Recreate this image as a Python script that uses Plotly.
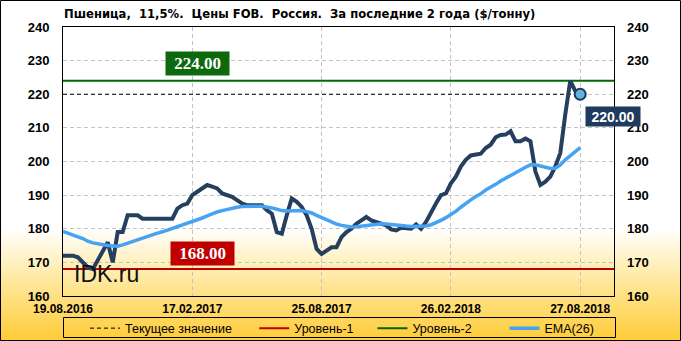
import base64
import plotly.graph_objects as go

# ---------------- data ----------------
price = [172, 172, 172, 171.5, 170, 168.5, 168, 170.5, 173, 176,
         170, 179, 179, 184, 184, 184, 183, 183, 183, 183,
         183, 183, 183, 186, 187, 187.5, 190, 191, 192, 193,
         192.5, 192, 190.5, 190, 189.5, 188.5, 187.5, 187, 187, 187,
         187, 185.5, 184.5, 179, 178.5, 184, 189, 188, 186.5, 184,
         180, 174, 172.5, 173.5, 174.5, 174.5, 177.5, 179, 180, 181.5,
         182.5, 183.5, 182.5, 182, 181.7, 181, 179.8, 179.5, 180.3, 180,
         180, 181.3, 180, 182, 185, 187.5, 190, 190.5, 193.5, 195.5,
         198.5, 200.5, 201.8, 202.2, 202.3, 204, 205, 207.2, 207.9, 208,
         209, 206, 206, 206.8, 206, 197, 193, 194, 195.5, 198.5,
         202.5, 214, 224, 221, 220]

ema26 = [179.2, 178.6, 178, 177.6, 177.1, 176.3, 175.8, 175.5, 175.2, 175,
         174.9, 174.8, 175.2, 175.7, 176.3, 176.9, 177.4, 177.8, 178.3, 178.7,
         179.1, 179.6, 180, 180.5, 181, 181.6, 182, 182.6, 183.2, 183.8,
         184.5, 185, 185.4, 185.8, 186.2, 186.4, 186.6, 186.7, 186.7, 186.7,
         186.7, 186.5, 186.2, 185.8, 185.4, 185.3, 185.4, 185.5, 185.4, 185.1,
         184.7, 184, 183.3, 182.6, 182, 181.4, 181, 180.7, 180.5, 180.6,
         180.8, 181, 181.2, 181.4, 181.5, 181.4, 181.2, 181, 180.9, 180.8,
         180.7, 180.7, 180.7, 180.8, 181.2, 181.8, 182.5, 183.3, 184.2, 185.2,
         186.4, 187.6, 188.6, 189.6, 190.4, 191.5, 192.3, 193.2, 194.2, 195.1,
         196, 196.8, 197.5, 198.3, 199, 199, 198.6, 198.2, 197.9, 198,
         199, 200.5, 201.7, 203, 204.1]

level1 = 168.0
level2 = 224.0
tick_idx = [0, 26, 52, 78, 104]
tick_labels = ["19.08.2016", "17.02.2017", "25.08.2017", "26.02.2018", "27.08.2018"]
y_ticks = [160, 170, 180, 190, 200, 210, 220, 230, 240]
title_text = ("Пшеница,\u00a0 11,5%.\u00a0 Цены FOB.\u00a0 Россия.\u00a0 "
              "За последние 2 года ($/тонну)")
legend_names = ["Текущее значение", "Уровень-1", "Уровень-2", "EMA(26)"]

# ---------------- geometry / style ----------------
W, H = 681, 341
ML, MR, MT, MB = 63, 67, 27, 45
PW = W - ML - MR
PH = H - MT - MB
X_MAX = 110.8
Y_RANGE = [160, 240]


def px(xp):
    return (xp - ML) / PW


def py(yp):
    return 1 - (yp - MT) / PH


idx = list(range(len(price)))
current = price[-1]
last_i = idx[-1]

C_PRICE = "#253F5F"
C_EMA = "#45A3F2"
C_RED = "#C00000"
C_GREEN = "#006A00"
C_NAVY = "#1E3A5C"
NB = "\u00a0"

svg = ('<svg xmlns="http://www.w3.org/2000/svg" width="681" height="341" '
       'viewBox="0 0 681 341" preserveAspectRatio="none"><defs>'
       '<linearGradient id="g" x1="0" y1="0" x2="0" y2="1">'
       '<stop offset="0" stop-color="#ffffff"/>'
       '<stop offset="0.67" stop-color="#ffffff"/>'
       '<stop offset="0.78" stop-color="#FFEFB8"/>'
       '<stop offset="0.9" stop-color="#FFDC70"/>'
       '<stop offset="1" stop-color="#FFCB38"/>'
       '</linearGradient></defs>'
       '<rect width="681" height="341" fill="url(#g)"/></svg>')
bg_src = "data:image/svg+xml;base64," + base64.b64encode(svg.encode()).decode()

fig = go.Figure()

fig.add_trace(go.Scatter(x=[0, X_MAX], y=[level1, level1], mode="lines",
                         line=dict(color=C_RED, width=2), name=legend_names[1] + NB * 4,
                         legendrank=2, hoverinfo="skip"))
fig.add_trace(go.Scatter(x=[0, X_MAX], y=[level2, level2], mode="lines",
                         line=dict(color=C_GREEN, width=2), name=legend_names[2] + NB * 8,
                         legendrank=3, hoverinfo="skip"))
fig.add_trace(go.Scatter(x=[0, last_i], y=[current, current], mode="lines",
                         line=dict(color="black", width=1, dash="4px,3px"),
                         name=legend_names[0] + NB * 5, legendrank=1, hoverinfo="skip"))
fig.add_trace(go.Scatter(x=idx, y=price, mode="lines",
                         line=dict(color=C_PRICE, width=4), showlegend=False))
fig.add_trace(go.Scatter(x=idx, y=ema26, mode="lines",
                         line=dict(color=C_EMA, width=3.5), name=legend_names[3],
                         legendrank=4))
fig.add_trace(go.Scatter(x=[last_i], y=[current], mode="markers",
                         marker=dict(size=11, color="#62B4DE",
                                     line=dict(color=C_NAVY, width=2)),
                         showlegend=False))
# helper so the right-hand axis is drawn
fig.add_trace(go.Scatter(x=[0], y=[current], yaxis="y2", mode="markers",
                         marker=dict(opacity=0), showlegend=False, hoverinfo="skip"))

tick_font = dict(family="Liberation Sans, Arial, sans-serif", size=13,
                 color="black", weight="bold")

fig.update_layout(
    width=W, height=H,
    margin=dict(l=ML, r=MR, t=MT, b=MB, pad=0, autoexpand=False),
    paper_bgcolor="white",
    plot_bgcolor="rgba(0,0,0,0)",
    showlegend=True,
    title=dict(text=title_text, x=64 / W, xanchor="left", xref="container",
               y=1 - 14 / H, yanchor="middle", yref="container",
               font=dict(family="DejaVu Sans, Verdana, sans-serif", size=11.6,
                         color="black", weight="bold")),
    xaxis=dict(range=[0, X_MAX], tickmode="array", tickvals=tick_idx,
               ticktext=tick_labels, showgrid=True, gridcolor="#C4C4C4",
               griddash="4px,3px", gridwidth=1, zeroline=False,
               showline=True, linecolor="black", linewidth=1, mirror=True,
               ticks="", ticklabelstandoff=2,
               tickfont=dict(family="Liberation Sans, Arial, sans-serif",
                             size=12, color="black", weight="bold")),
    yaxis=dict(range=Y_RANGE, tickmode="array", tickvals=y_ticks,
               showgrid=True, gridcolor="#C4C4C4", griddash="4px,3px",
               gridwidth=1, zeroline=False, showline=True, linecolor="black",
               linewidth=1, mirror=True, ticks="", ticklabelstandoff=10,
               tickfont=tick_font),
    yaxis2=dict(range=Y_RANGE, overlaying="y", side="right", tickmode="array",
                tickvals=y_ticks, showgrid=False, zeroline=False,
                showline=False, ticks="", ticklabelstandoff=12,
                tickfont=tick_font),
    legend=dict(orientation="h", x=px(85), xanchor="left", y=py(313.5),
                yanchor="top", bgcolor="rgba(0,0,0,0)", borderwidth=0,
                font=dict(family="Liberation Sans, Arial, sans-serif", size=12.5,
                          color="black"),
                traceorder="normal"),
    images=[dict(source=bg_src, xref="paper", yref="paper", x=px(0), y=py(0),
                 sizex=W / PW, sizey=H / PH, sizing="stretch",
                 xanchor="left", yanchor="top", layer="below")],
    shapes=[
        dict(type="rect", xref="paper", yref="paper", x0=px(0.5), x1=px(W - 0.5),
             y0=py(0.5), y1=py(H - 0.5), line=dict(color="black", width=1)),
        dict(type="rect", xref="paper", yref="paper", x0=px(63.5), x1=px(615.5),
             y0=py(317.5), y1=py(337.5), line=dict(color="black", width=1)),
    ],
    annotations=[
        dict(text=f"<b>{level2:.2f}</b>", x=px(197.5), xref="paper",
             xanchor="center", y=level2, yref="y", yshift=17, showarrow=False,
             width=63, height=23, bgcolor="#0E690E", borderpad=0,
             font=dict(family="Liberation Serif, Times New Roman, serif",
                       size=17, color="white")),
        dict(text=f"<b>{level1:.2f}</b>", x=px(202.5), xref="paper",
             xanchor="center", y=level1, yref="y", yshift=16, showarrow=False,
             width=63, height=23, bgcolor=C_RED, borderpad=0,
             font=dict(family="Liberation Serif, Times New Roman, serif",
                       size=17, color="white")),
        dict(text=f"<b>{current:.2f}</b>", x=last_i, xref="x", xanchor="center",
             y=current, yref="y", xshift=33, yshift=-22, showarrow=False,
             width=54, height=19, bgcolor=C_NAVY, borderpad=0,
             font=dict(family="Liberation Sans, Arial, sans-serif", size=14,
                       color="white")),
        dict(text="IDK.ru", x=px(72), xref="paper", xanchor="left",
             y=py(273.5), yref="paper", yanchor="middle", showarrow=False,
             font=dict(family="Liberation Sans, Arial, sans-serif", size=23,
                       color="#111111")),
    ],
)

fig.write_html("out.html")
